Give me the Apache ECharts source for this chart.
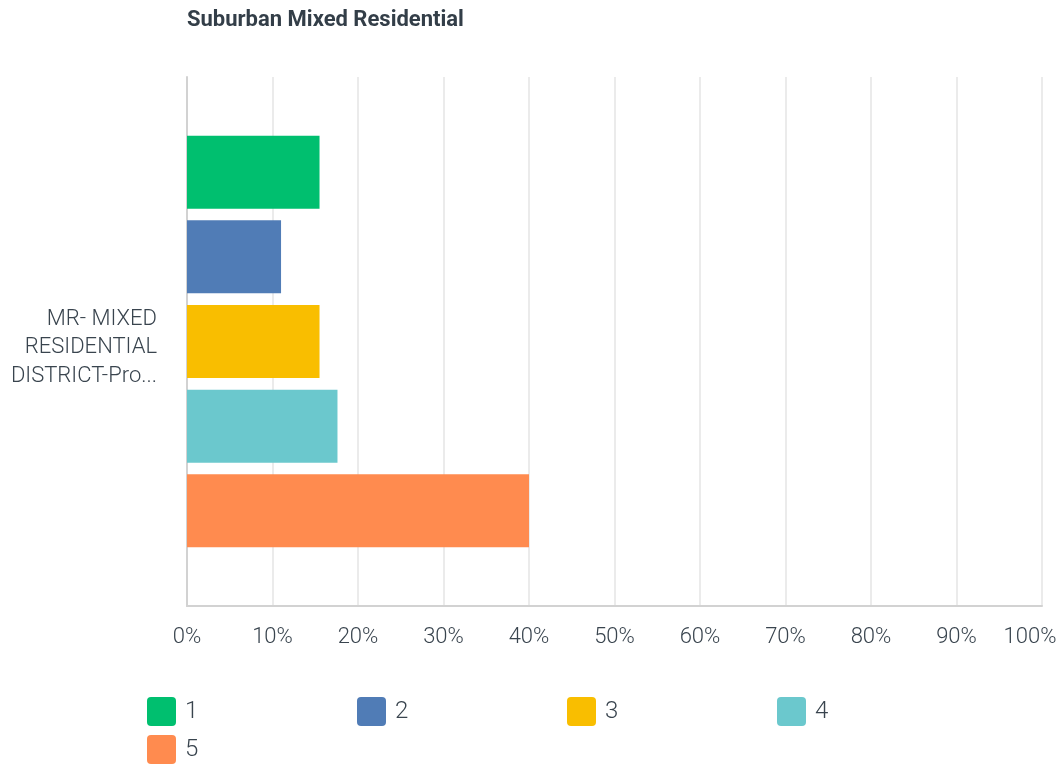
<!DOCTYPE html>
<html>
<head>
<meta charset="utf-8">
<script src="https://cdn.jsdelivr.net/npm/echarts@6/dist/echarts.min.js"></script>
<style>
  html, body { margin: 0; padding: 0; background: #fff; }
  #chart { width: 1061px; height: 765px; }
</style>
</head>
<body>
<div id="chart"></div>
<script>
// Rating distribution for the MR district question (percent of responses)
const categories = ['MR- MIXED\nRESIDENTIAL\nDISTRICT-Pro...'];
const ratingNames = ['1', '2', '3', '4', '5'];
const ratingShares = [15.5, 11.0, 15.5, 17.6, 40.0];
const ratingColors = ['#00bf6f', '#507cb6', '#f9be00', '#6bc8cd', '#ff8b4f'];
const tickMax = 100;
const tickStep = 10;

const chart = echarts.init(document.getElementById('chart'), null, { renderer: 'canvas' });

const textColor = '#333e48';
const labelColor = '#39444e';
const font = 'Roboto, "Open Sans", sans-serif';
const labelFont = { fontFamily: font, fontSize: 22, fontWeight: 300, color: labelColor };

// Square swatch with softly rounded corners
const swatch = 'path://M4,0 H25 Q29,0 29,4 V25 Q29,29 25,29 H4 Q0,29 0,25 V4 Q0,0 4,0 Z';

// One legend block per rating, laid out four to a row
const legendPerRow = 4;
const legends = ratingNames.map((name, i) => ({
  data: [name],
  left: 147 + (i % legendPerRow) * 210,
  top: 697 + Math.floor(i / legendPerRow) * 38,
  padding: 0,
  itemWidth: 29,
  itemHeight: 29,
  icon: swatch,
  selectedMode: false,
  textStyle: Object.assign({}, labelFont, { fontSize: 24, padding: [3, 0, 0, 4] })
}));

// Category label: a thin spacer line on top nudges the wrapped text down a little
const categoryLabel = (v) =>
  '{s| }\n' + v.split('\n').map((line) => '{t|' + line + '}').join('\n');

chart.setOption({
  animation: false,
  title: {
    text: 'Suburban Mixed Residential',
    left: 182,
    top: 4,
    textStyle: { fontFamily: font, fontSize: 22, fontWeight: 'bold', color: textColor }
  },
  legend: legends,
  grid: { left: 187, right: 19, top: 77, bottom: 159, containLabel: false, outerBoundsMode: 'none' },
  xAxis: {
    type: 'value',
    min: 0,
    max: tickMax,
    interval: tickStep,
    axisLine: { show: true, lineStyle: { color: '#d2d2d2', width: 2 } },
    axisTick: { show: false },
    splitLine: { show: true, lineStyle: { color: '#ebebeb', width: 2 } },
    axisLabel: Object.assign({
      margin: 20,
      formatter: (v) => (v === tickMax ? '{last|' + v + '%}' : v + '%'),
      rich: { last: Object.assign({ padding: [0, 24, 0, 0] }, labelFont) }
    }, labelFont)
  },
  yAxis: {
    type: 'category',
    inverse: true,
    data: categories,
    axisLine: { show: true, lineStyle: { color: '#d2d2d2', width: 2 } },
    axisTick: { show: false },
    axisLabel: Object.assign({
      margin: 30,
      align: 'right',
      formatter: categoryLabel,
      rich: {
        s: { fontSize: 1, lineHeight: 12 },
        t: Object.assign({ lineHeight: 28.5 }, labelFont)
      }
    }, labelFont)
  },
  series: ratingNames.map((name, i) => ({
    name: name,
    type: 'bar',
    data: [ratingShares[i]],
    barWidth: 73,
    barGap: '16%',
    itemStyle: { color: ratingColors[i] }
  }))
});
</script>
</body>
</html>
